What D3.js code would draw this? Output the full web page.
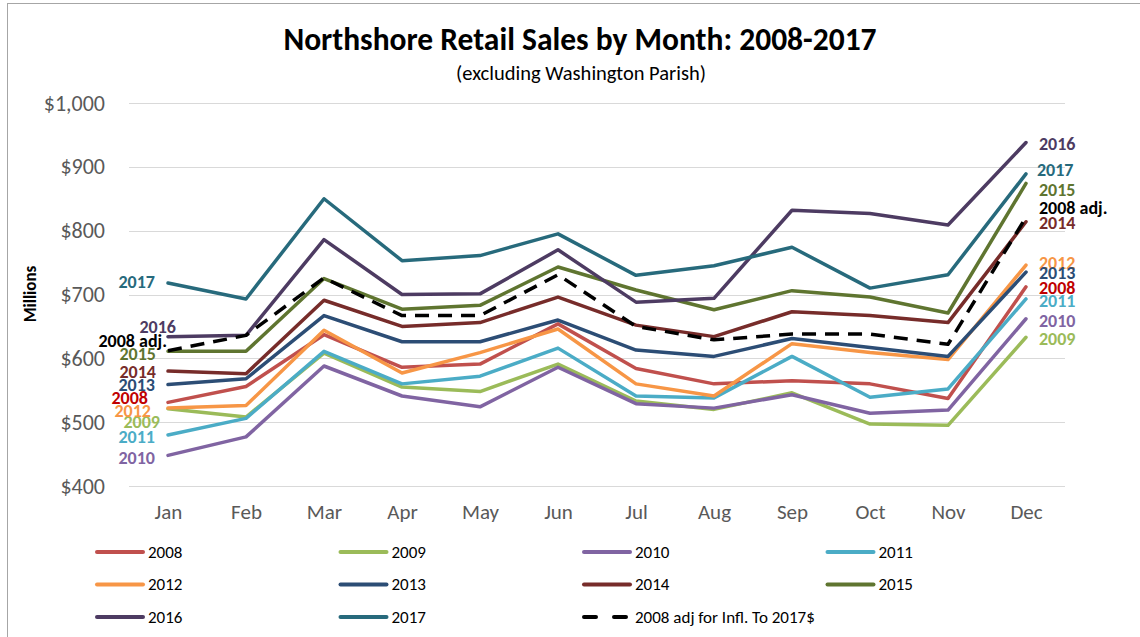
<!DOCTYPE html>
<html>
<head>
<meta charset="utf-8">
<script src="https://cdn.jsdelivr.net/npm/d3@7"></script>
<style>
  body { margin: 0; background: #fff; }
  text { font-family: Carlito, Calibri, Lato, "Open Sans", sans-serif; }
</style>
</head>
<body>
<div id="chart"></div>
<script>
var months = ["Jan", "Feb", "Mar", "Apr", "May", "Jun", "Jul", "Aug", "Sep", "Oct", "Nov", "Dec"];
var yTicks = [400, 500, 600, 700, 800, 900, 1000];

// monthly sales, millions of dollars
var s2008 = [531, 556, 637, 586, 591, 654, 584, 560, 565, 560, 537, 712];
var s2009 = [521, 508, 608, 555, 548, 591, 533, 520, 546, 497, 495, 633];
var s2010 = [448, 477, 588, 541, 524, 586, 529, 522, 543, 514, 519, 662];
var s2011 = [480, 506, 611, 560, 572, 616, 541, 538, 603, 539, 552, 693];
var s2012 = [522, 526, 644, 577, 609, 646, 560, 541, 623, 609, 598, 746];
var s2013 = [559, 568, 667, 626, 626, 660, 613, 603, 631, 617, 603, 735];
var s2014 = [580, 576, 691, 650, 656, 696, 652, 634, 673, 667, 656, 814];
var s2015 = [611, 611, 725, 677, 683, 743, 707, 676, 706, 696, 671, 874];
var s2016 = [634, 636, 786, 700, 701, 770, 688, 694, 832, 827, 809, 938];
var s2017 = [718, 693, 850, 753, 761, 795, 730, 745, 774, 710, 731, 889];
var s2008adj = [612, 636, 726, 667, 667, 731, 650, 629, 638, 638, 622, 821];

var seriesNames = ["2008", "2009", "2010", "2011", "2012", "2013", "2014", "2015", "2016", "2017", "2008 adj for Infl. To 2017$"];
var endLabels = ["2008", "2009", "2010", "2011", "2012", "2013", "2014", "2015", "2016", "2017", "2008 adj."];
var seriesValues = [s2008, s2009, s2010, s2011, s2012, s2013, s2014, s2015, s2016, s2017, s2008adj];

var lineColors = ["#C0504D", "#9BBB59", "#8064A2", "#4BACC6", "#F79646", "#2C4D75", "#772C2A", "#5F7530", "#4D3B62", "#276A7C", "#000000"];
var labelColors = ["#C00000", "#9BBB59", "#8064A2", "#4BACC6", "#F79646", "#2C4D75", "#772C2A", "#5F7530", "#4D3B62", "#276A7C", "#000000"];

// label nudges (pixels) so the end labels don't pile up
var leftNudge = [[-7, -5], [5, 13], [0, 2], [0, 2], [-4, 3], [0, 0], [1, 1], [1, 2], [21, -10], [0, -1], [12, -10]];
var rightNudge = [1, 1, 2, 1.5, -2.6, 1, 1.4, 6.5, 1.4, -4.6, -10];

var W = 1140, H = 637;
var svg = d3.select("#chart").append("svg").attr("width", W).attr("height", H);

// chart area border
svg.append("rect").attr("x", 7.5).attr("y", 3.5).attr("width", 1200).attr("height", 700)
    .attr("fill", "none").attr("stroke", "#A6A6A6").attr("stroke-width", 1);

var x = d3.scalePoint().domain(months).range([168, 1026]);
var y = d3.scaleLinear().domain([400, 1000]).range([486, 103]);

// gridlines
svg.append("g").selectAll("line").data(yTicks).join("line")
    .attr("x1", 129).attr("x2", 1065)
    .attr("y1", function(d) { return Math.round(y(d)) + 0.5; })
    .attr("y2", function(d) { return Math.round(y(d)) + 0.5; })
    .attr("stroke", "#D9D9D9").attr("stroke-width", 1);

var yAxis = svg.append("g").attr("transform", "translate(112,0)")
    .call(d3.axisLeft(y).tickValues(yTicks).tickSize(0).tickPadding(7).tickFormat(function(d) { return "$" + d3.format(",")(d); }));
yAxis.select(".domain").remove();
yAxis.selectAll("text").attr("font-size", 22).attr("fill", "#595959")
    .attr("font-family", "Carlito, Calibri, Lato, sans-serif");

var xAxis = svg.append("g").attr("transform", "translate(0,500)")
    .call(d3.axisBottom(x).tickSize(0).tickPadding(4));
xAxis.select(".domain").remove();
xAxis.selectAll("text").attr("font-size", 21).attr("fill", "#595959")
    .attr("font-family", "Carlito, Calibri, Lato, sans-serif");

svg.append("text").attr("transform", "translate(30,294) rotate(-90)")
    .attr("text-anchor", "middle").attr("dy", "0.35em")
    .attr("font-size", 17).attr("font-weight", "bold").text("Millions");

svg.append("text").attr("x", 580).attr("y", 50).attr("text-anchor", "middle")
    .attr("font-size", 31.5).attr("font-weight", "bold").attr("fill", "#000")
    .text("Northshore Retail Sales by Month: 2008-2017");
svg.append("text").attr("x", 581).attr("y", 80).attr("text-anchor", "middle")
    .attr("font-size", 20.5).attr("fill", "#000")
    .text("(excluding Washington Parish)");

var line = d3.line().x(function(d, i) { return x(months[i]); }).y(function(d) { return y(d); });

seriesValues.forEach(function(vals, s) {
    var isAdj = s === 10;
    svg.append("path").datum(vals)
        .attr("d", line)
        .attr("fill", "none")
        .attr("stroke", lineColors[s])
        .attr("stroke-width", 3.5)
        .attr("stroke-linejoin", "round")
        .attr("stroke-linecap", isAdj ? "butt" : "round")
        .attr("stroke-dasharray", isAdj ? "14,9" : null);

    // left and right data labels
    svg.append("text")
        .attr("x", 155 + leftNudge[s][0])
        .attr("y", y(vals[0]) + leftNudge[s][1])
        .attr("dy", "0.35em").attr("text-anchor", "end")
        .attr("font-size", 18).attr("font-weight", "bold")
        .attr("fill", labelColors[s]).text(endLabels[s]);
    svg.append("text")
        .attr("x", s === 9 ? 1037 : 1039)
        .attr("y", y(vals[11]) + rightNudge[s])
        .attr("dy", "0.35em").attr("text-anchor", "start")
        .attr("font-size", 18).attr("font-weight", "bold")
        .attr("fill", labelColors[s]).text(endLabels[s]);
});

// legend, 4 columns
var legend = svg.append("g");
seriesNames.forEach(function(name, s) {
    var col = s % 4, row = Math.floor(s / 4);
    var lx = 97 + col * 243.5, ly = 552 + row * 32.5;
    var isAdj = s === 10;
    legend.append("line")
        .attr("x1", lx).attr("x2", lx + 46).attr("y1", ly).attr("y2", ly)
        .attr("stroke", lineColors[s]).attr("stroke-width", 4)
        .attr("stroke-linecap", "round")
        .attr("stroke-dasharray", isAdj ? "12,18" : null);
    legend.append("text")
        .attr("x", lx + 51).attr("y", ly).attr("dy", "0.35em")
        .attr("font-size", 17).attr("fill", "#000").text(name);
});
</script>
</body>
</html>
